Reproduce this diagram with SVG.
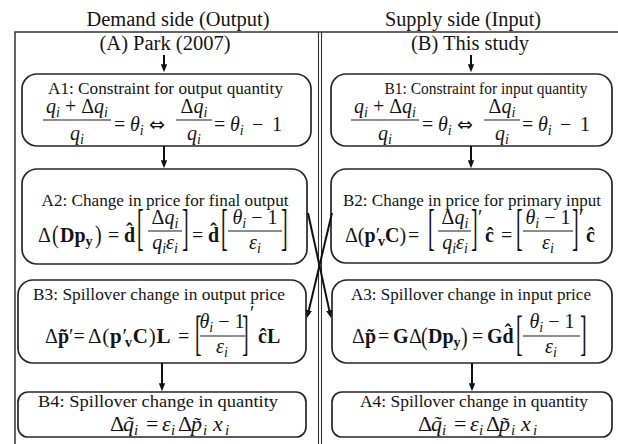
<svg xmlns="http://www.w3.org/2000/svg" width="618" height="444" viewBox="0 0 618 444">
<style>
text{font-family:"Liberation Serif","DejaVu Serif",serif;fill:#141414;font-size:20px}
.c{text-anchor:middle}
.tt{font-size:17px;text-anchor:middle}
.i{font-style:italic}
.b{font-weight:bold}
.s{font-size:14px}
.m22{font-size:22px}
.s15{font-size:15px;font-style:italic}
.sym{font-family:"DejaVu Sans",sans-serif;font-size:19px}
.box{fill:#fff;stroke:#262626;stroke-width:1.7}
.bar{stroke:#1a1a1a;stroke-width:1.1}
.fr{stroke:#333;stroke-width:1.5;fill:none}
.arr{stroke:#111;stroke-width:2;fill:none;marker-end:url(#ah)}
</style>
<defs>
<marker id="ah" viewBox="0 0 10 8" refX="6" refY="4" markerWidth="8" markerHeight="6.4" markerUnits="userSpaceOnUse" orient="auto"><path d="M0,0 L10,4 L0,8 z" fill="#111"/></marker>
</defs>
<rect width="618" height="444" fill="#fff"/>
<g id="frame">
<path class="fr" d="M15,444 V32 H618"/>
<path class="fr" d="M318.5,32 V444 M321.5,32 V444" style="stroke-width:1.1"/>
<text class="c" x="178" y="26" textLength="183" lengthAdjust="spacingAndGlyphs">Demand side (Output)</text>
<text class="c" x="463" y="26" textLength="156" lengthAdjust="spacingAndGlyphs">Supply side (Input)</text>
<text class="c" x="165" y="50" textLength="131" lengthAdjust="spacingAndGlyphs">(A) Park (2007)</text>
<text class="c" x="470" y="50" textLength="118" lengthAdjust="spacingAndGlyphs">(B) This study</text>
</g>
<g id="A1">
<rect class="box" x="22" y="74" width="289" height="72" rx="15"/>
<text class="tt" x="165.5" y="94" textLength="235" lengthAdjust="spacingAndGlyphs">A1: Constraint for output quantity</text>
<text class="c" x="77" y="113"><tspan class="i">q</tspan><tspan class="i s" dy="4">i</tspan><tspan dy="-4"> + Δ</tspan><tspan class="i">q</tspan><tspan class="i s" dy="4">i</tspan></text>
<line class="bar" x1="43" y1="120" x2="111" y2="120"/>
<text class="c" x="77" y="140"><tspan class="i">q</tspan><tspan class="i s" dy="4">i</tspan></text>
<text x="114" y="131">=</text>
<text x="130" y="131"><tspan class="i">θ</tspan><tspan class="i s" dy="4">i</tspan></text>
<text class="sym" x="149" y="131">⇔</text>
<text class="c" x="194" y="113">Δ<tspan class="i">q</tspan><tspan class="i s" dy="4">i</tspan></text>
<line class="bar" x1="176" y1="120" x2="212" y2="120"/>
<text class="c" x="194" y="140"><tspan class="i">q</tspan><tspan class="i s" dy="4">i</tspan></text>
<text x="214" y="131">=</text>
<text x="230" y="131"><tspan class="i">θ</tspan><tspan class="i s" dy="4">i</tspan></text>
<text x="252" y="131">−</text>
<text x="272" y="131">1</text>
</g>
<g id="B1">
<rect class="box" x="331" y="74" width="281" height="72" rx="15"/>
<text class="tt" x="486" y="94" textLength="203" lengthAdjust="spacingAndGlyphs">B1: Constraint for input quantity</text>
<g transform="translate(308,0)">
<text class="c" x="77" y="113"><tspan class="i">q</tspan><tspan class="i s" dy="4">i</tspan><tspan dy="-4"> + Δ</tspan><tspan class="i">q</tspan><tspan class="i s" dy="4">i</tspan></text>
<line class="bar" x1="43" y1="120" x2="111" y2="120"/>
<text class="c" x="77" y="140"><tspan class="i">q</tspan><tspan class="i s" dy="4">i</tspan></text>
<text x="114" y="131">=</text>
<text x="130" y="131"><tspan class="i">θ</tspan><tspan class="i s" dy="4">i</tspan></text>
<text class="sym" x="149" y="131">⇔</text>
<text class="c" x="194" y="113">Δ<tspan class="i">q</tspan><tspan class="i s" dy="4">i</tspan></text>
<line class="bar" x1="176" y1="120" x2="212" y2="120"/>
<text class="c" x="194" y="140"><tspan class="i">q</tspan><tspan class="i s" dy="4">i</tspan></text>
<text x="214" y="131">=</text>
<text x="230" y="131"><tspan class="i">θ</tspan><tspan class="i s" dy="4">i</tspan></text>
<text x="252" y="131">−</text>
<text x="272" y="131">1</text>
</g>
</g>
<g id="A2">
<rect class="box" x="22" y="169" width="285" height="95" rx="15"/>
<text class="tt" x="165" y="206" textLength="247" lengthAdjust="spacingAndGlyphs">A2: Change in price for final output</text>
<text x="38" y="242">Δ</text>
<text transform="translate(52,243) scale(1,1.3)">(</text>
<text class="b" x="60" y="242">Dp<tspan class="s" dy="4">y</tspan></text>
<text transform="translate(95,243) scale(1,1.3)">)</text>
<text x="108" y="242">=</text>
<text class="b" x="124" y="242">d̂</text>
<text transform="translate(137,244) scale(1,2.5)">[</text>
<text class="c" x="165" y="224">Δ<tspan class="i">q</tspan><tspan class="i s" dy="4">i</tspan></text>
<line class="bar" x1="148" y1="231" x2="182" y2="231"/>
<text class="c" x="165" y="249"><tspan class="i">q</tspan><tspan class="i s" dy="4">i</tspan><tspan class="i" dy="-4">ε</tspan><tspan class="i s" dy="4">i</tspan></text>
<text transform="translate(182,244) scale(1,2.5)">]</text>
<text x="192" y="242">=</text>
<text class="b" x="208" y="242">d̂</text>
<text transform="translate(221,244) scale(1,2.5)">[</text>
<text class="c" x="255" y="224"><tspan class="i">θ</tspan><tspan class="i s" dy="4">i</tspan><tspan dy="-4"> − 1</tspan></text>
<line class="bar" x1="228" y1="231" x2="282" y2="231"/>
<text class="c" x="255" y="249"><tspan class="i">ε</tspan><tspan class="i s" dy="4">i</tspan></text>
<text transform="translate(281,244) scale(1,2.5)">]</text>
</g>
<g id="B2">
<rect class="box" x="331" y="169" width="281" height="94" rx="15"/>
<text class="tt" x="472" y="206" textLength="258" lengthAdjust="spacingAndGlyphs">B2: Change in price for primary input</text>
<text x="345" y="242">Δ(<tspan class="b">p</tspan>′<tspan class="b s" dx="-2" dy="4">v</tspan><tspan class="b" dy="-4">C</tspan>)</text>
<text x="408" y="242">=</text>
<text transform="translate(428,244) scale(1,2.5)">[</text>
<text class="c" x="455" y="224">Δ<tspan class="i">q</tspan><tspan class="i s" dy="4">i</tspan></text>
<line class="bar" x1="438" y1="231" x2="471" y2="231"/>
<text class="c" x="455" y="249"><tspan class="i">q</tspan><tspan class="i s" dy="4">i</tspan><tspan class="i" dy="-4">ε</tspan><tspan class="i s" dy="4">i</tspan></text>
<text transform="translate(471,244) scale(1,2.5)">]</text>
<text x="478" y="224">′</text>
<text class="b" x="485" y="242">ĉ</text>
<text x="501" y="242">=</text>
<text transform="translate(516,244) scale(1,2.5)">[</text>
<text class="c" x="548" y="224"><tspan class="i">θ</tspan><tspan class="i s" dy="4">i</tspan><tspan dy="-4"> − 1</tspan></text>
<line class="bar" x1="523" y1="231" x2="573" y2="231"/>
<text class="c" x="548" y="249"><tspan class="i">ε</tspan><tspan class="i s" dy="4">i</tspan></text>
<text transform="translate(572,244) scale(1,2.5)">]</text>
<text x="579" y="224">′</text>
<text class="b" x="586" y="242">ĉ</text>
</g>
<g id="B3">
<rect class="box" x="18" y="280" width="288" height="83" rx="15"/>
<text class="tt" x="159" y="300" textLength="252" lengthAdjust="spacingAndGlyphs">B3: Spillover change in output price</text>
<text x="45" y="343">Δ<tspan class="b">p̃</tspan>′=</text>
<text x="88" y="343" style="font-size:21px;letter-spacing:0.8px">Δ(<tspan class="b">p</tspan>′<tspan class="b s" dx="-3" dy="4">v</tspan><tspan class="b" dy="-4">C</tspan>)<tspan class="b">L</tspan></text>
<text x="178" y="343">=</text>
<text transform="translate(195,349.4) scale(1,2.38)">[</text>
<text class="c" x="222" y="328"><tspan class="i">θ</tspan><tspan class="i s" dy="4">i</tspan><tspan dy="-4"> − 1</tspan></text>
<line class="bar" x1="200" y1="336" x2="245" y2="336"/>
<text class="c" x="222" y="353"><tspan class="i">ε</tspan><tspan class="i s" dy="4">i</tspan></text>
<text transform="translate(242,349.4) scale(1,2.38)">]</text>
<text x="250" y="320">′</text>
<text class="b" x="258" y="343">ĉL</text>
</g>
<g id="A3">
<rect class="box" x="332" y="280" width="280" height="83" rx="15"/>
<text class="tt" x="471" y="300" textLength="240" lengthAdjust="spacingAndGlyphs">A3: Spillover change in input price</text>
<text x="352" y="343">Δ<tspan class="b">p̃</tspan></text>
<text x="378" y="343">=</text>
<text class="b" x="393" y="343">G</text>
<text x="409" y="343">Δ</text>
<text transform="translate(421,345) scale(1,1.3)">(</text>
<text class="b" x="428" y="343">Dp<tspan class="s" dy="4">y</tspan></text>
<text transform="translate(461,345) scale(1,1.3)">)</text>
<text x="472" y="343">=</text>
<text class="b" x="487" y="343">Gd̂</text>
<text transform="translate(516,349.4) scale(1,2.38)">[</text>
<text class="c" x="552" y="328"><tspan class="i">θ</tspan><tspan class="i s" dy="4">i</tspan><tspan dy="-4"> − 1</tspan></text>
<line class="bar" x1="523" y1="336" x2="580" y2="336"/>
<text class="c" x="551" y="353"><tspan class="i">ε</tspan><tspan class="i s" dy="4">i</tspan></text>
<text transform="translate(580,349.4) scale(1,2.38)">]</text>
</g>
<g id="B4">
<rect class="box" x="18" y="392" width="288" height="45" rx="10"/>
<text class="tt" x="158" y="407" textLength="240" lengthAdjust="spacingAndGlyphs">B4: Spillover change in quantity</text>
<text class="m22" x="110" y="431">Δ</text>
<text class="m22 i" x="123" y="431">q̃</text>
<text class="s15" x="134" y="435">i</text>
<text class="m22" x="146" y="431">=</text>
<text class="m22 i" x="162" y="431">ε</text>
<text class="s15" x="171" y="435">i</text>
<text class="m22" x="178" y="431">Δ</text>
<text class="m22 i" x="191" y="431">p̃</text>
<text class="s15" x="203" y="435">i</text>
<text class="m22 i" x="213" y="431">x</text>
<text class="s15" x="225" y="435">i</text>
</g>
<g id="A4">
<rect class="box" x="332" y="392" width="280" height="45" rx="10"/>
<text class="tt" x="474" y="407" textLength="228" lengthAdjust="spacingAndGlyphs">A4: Spillover change in quantity</text>
<g transform="translate(308,0)">
<text class="m22" x="110" y="431">Δ</text>
<text class="m22 i" x="123" y="431">q̃</text>
<text class="s15" x="134" y="435">i</text>
<text class="m22" x="146" y="431">=</text>
<text class="m22 i" x="162" y="431">ε</text>
<text class="s15" x="171" y="435">i</text>
<text class="m22" x="178" y="431">Δ</text>
<text class="m22 i" x="191" y="431">p̃</text>
<text class="s15" x="203" y="435">i</text>
<text class="m22 i" x="213" y="431">x</text>
<text class="s15" x="225" y="435">i</text>
</g>
</g>
<g id="connectors">
<line class="arr" x1="164" y1="55" x2="164" y2="69"/>
<line class="arr" x1="471" y1="55" x2="471" y2="69"/>
<line class="arr" x1="164" y1="146" x2="164" y2="165"/>
<line class="arr" x1="471" y1="146" x2="471" y2="165"/>
<line class="arr" x1="162" y1="363" x2="162" y2="388"/>
<line class="arr" x1="472" y1="363" x2="472" y2="388"/>
<line class="arr" x1="308" y1="213" x2="330.3" y2="314.9"/>
<line class="arr" x1="332" y1="213" x2="307.7" y2="314.9"/>
</g>
</svg>
